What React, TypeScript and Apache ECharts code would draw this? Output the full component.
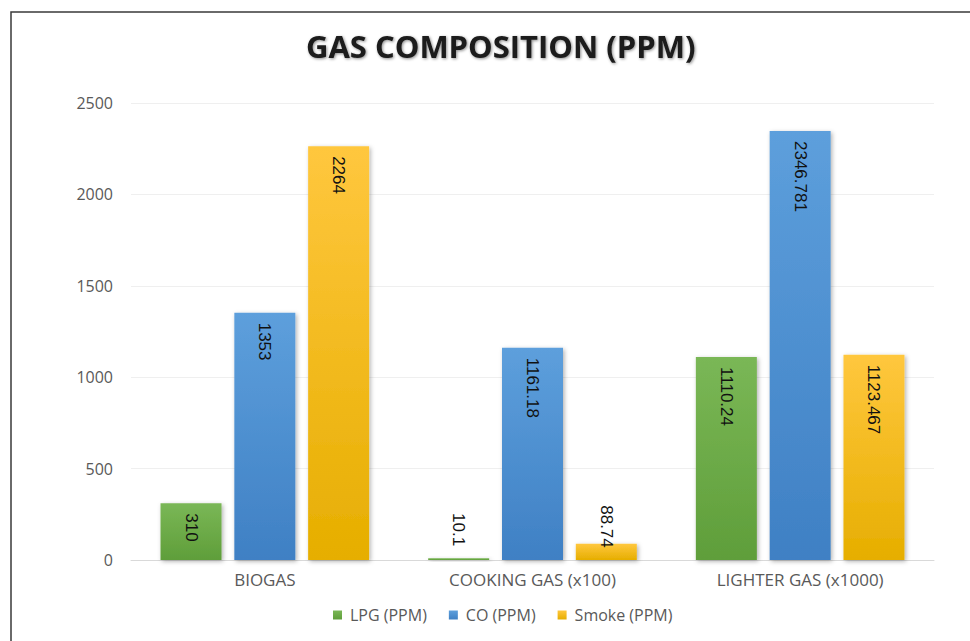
import React, { useEffect, useRef } from "react";
import * as echarts from "echarts";

const categories = ["BIOGAS", "COOKING GAS (x100)", "LIGHTER GAS (x1000)"];
const lpg = [310, 10.1, 1110.24];
const co = [1353, 1161.18, 2346.781];
const smoke = [2264, 88.74, 1123.467];
const yTicks = [0, 500, 1000, 1500, 2000, 2500];

const grad = (top: string, bottom: string) =>
  new echarts.graphic.LinearGradient(0, 0, 0, 1, [
    { offset: 0, color: top },
    { offset: 1, color: bottom },
  ]);

const labelInside = {
  show: true,
  position: "insideTop",
  rotate: -90,
  align: "left",
  verticalAlign: "middle",
  distance: 10,
  color: "#111",
  fontFamily: "Liberation Sans",
  fontSize: 17,
  formatter: (p: any) => String(p.value),
};

function makeData(vals: number[], small: (number | null)[]) {
  return vals.map((v, i) =>
    small[i] !== null
      ? {
          value: v,
          label: {
            position: "top",
            align: "right",
            distance: small[i] as number,
          },
        }
      : v
  );
}

export default function App() {
  const ref = useRef<HTMLDivElement>(null);
  useEffect(() => {
    if (!ref.current) return;
    const chart = echarts.init(ref.current, null, { renderer: "svg" });
    const shadow = {
      shadowBlur: 4,
      shadowColor: "rgba(0,0,0,0.3)",
      shadowOffsetX: 1.5,
      shadowOffsetY: 1.5,
    };
    chart.setOption({
      animation: false,
      backgroundColor: "#fff",
      title: {
        text: "GAS COMPOSITION (PPM)",
        left: 301,
        top: 25,
        textStyle: {
          fontFamily: "Open Sans",
          fontWeight: "bold",
          fontSize: 31,
          color: "#1a1a1a",
          textShadowColor: "rgba(0,0,0,0.45)",
          textShadowBlur: 3,
          textShadowOffsetX: 1,
          textShadowOffsetY: 1,
        },
      },
      legend: {
        bottom: 13,
        left: 328,
        itemWidth: 9,
        itemHeight: 9,
        itemGap: 22,
        icon: "rect",
        textStyle: { fontFamily: "Open Sans", fontSize: 16, color: "#595959", padding: [0, 0, 0, 3] },
        data: ["LPG (PPM)", "CO (PPM)", "Smoke (PPM)"],
      },
      grid: { left: 131, right: 36, top: 103, bottom: 81 },
      xAxis: {
        type: "category",
        data: categories,
        axisTick: { show: false },
        axisLine: { lineStyle: { color: "#d9d9d9" } },
        axisLabel: {
          fontFamily: "Open Sans",
          fontSize: 17,
          color: "#595959",
          margin: 11,
        },
      },
      yAxis: {
        type: "value",
        min: 0,
        max: yTicks[yTicks.length - 1],
        interval: 500,
        axisLabel: {
          fontFamily: "Open Sans",
          fontSize: 16,
          color: "#595959",
          margin: 18,
          formatter: (v: number) => String(v),
        },
        splitLine: { lineStyle: { color: "#efefef" } },
      },
      graphic: [
        {
          type: "rect",
          shape: { x: 11, y: 12, width: 1000, height: 700 },
          style: { fill: "none", stroke: "#3a3a3a", lineWidth: 1.5 },
          silent: true,
        },
      ],
      series: [
        {
          name: "LPG (PPM)",
          type: "bar",
          barWidth: 61,
          barGap: "21%",
          data: makeData(lpg, [null, 12, null]),
          itemStyle: { color: grad("#7ab756", "#5f9e3a"), ...shadow },
          label: labelInside,
        },
        {
          name: "CO (PPM)",
          type: "bar",
          barWidth: 61,
          barGap: "21%",
          data: co,
          itemStyle: { color: grad("#5d9fdc", "#3f80c4"), ...shadow },
          label: labelInside,
        },
        {
          name: "Smoke (PPM)",
          type: "bar",
          barWidth: 61,
          barGap: "21%",
          data: makeData(smoke, [null, -4, null]),
          itemStyle: { color: grad("#ffc73e", "#e6ae00"), ...shadow },
          label: labelInside,
        },
      ],
    });
    return () => chart.dispose();
  }, []);
  return (
    <div
      ref={ref}
      style={{ position: "fixed", left: 0, top: 0, width: 970, height: 641 }}
    />
  );
}
